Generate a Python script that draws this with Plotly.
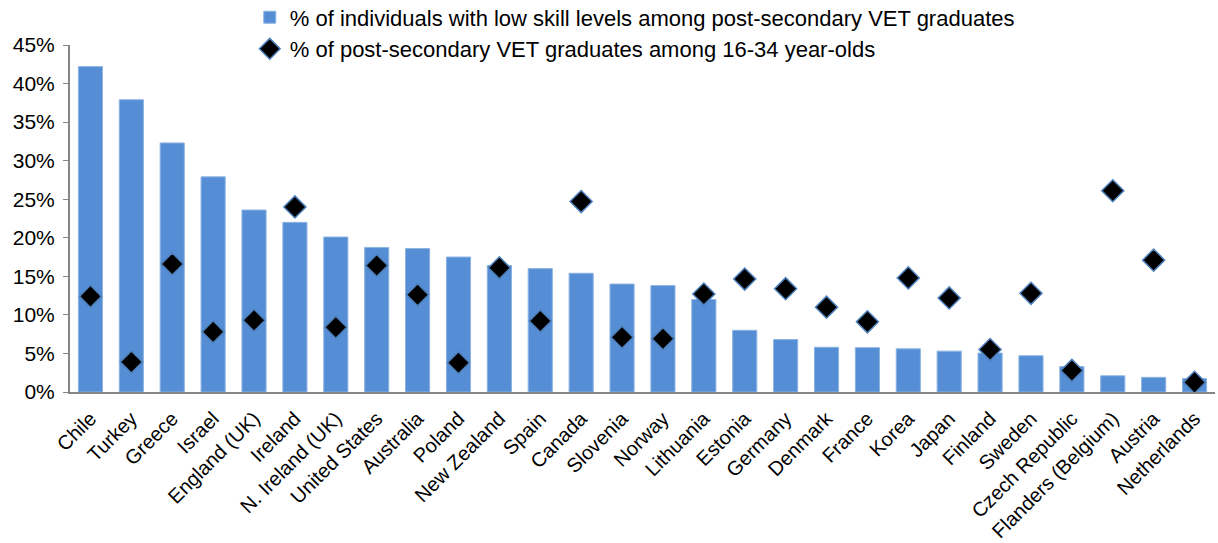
import plotly.graph_objects as go

countries = ["Chile", "Turkey", "Greece", "Israel", "England (UK)", "Ireland", "N. Ireland (UK)",
             "United States", "Australia", "Poland", "New Zealand", "Spain", "Canada", "Slovenia",
             "Norway", "Lithuania", "Estonia", "Germany", "Denmark", "France", "Korea", "Japan",
             "Finland", "Sweden", "Czech Republic", "Flanders (Belgium)", "Austria", "Netherlands"]

low_skill = [0.422, 0.379, 0.323, 0.279, 0.236, 0.220, 0.201, 0.1875, 0.186, 0.175, 0.164, 0.160,
             0.154, 0.140, 0.138, 0.120, 0.080, 0.068, 0.058, 0.0575, 0.056, 0.053, 0.0505, 0.047,
             0.033, 0.021, 0.019, 0.0175]

vet_share = [0.124, 0.039, 0.166, 0.078, 0.093, 0.240, 0.084, 0.164, 0.126, 0.038, 0.161, 0.092,
             0.247, 0.071, 0.069, 0.127, 0.1465, 0.134, 0.110, 0.091, 0.148, 0.122, 0.055, 0.128,
             0.028, 0.261, 0.171, 0.0125]

y_ticks = [0, 0.05, 0.10, 0.15, 0.20, 0.25, 0.30, 0.35, 0.40, 0.45]

FONT = "Arial, 'Liberation Sans', sans-serif"

fig = go.Figure()
fig.add_trace(go.Bar(
    x=countries, y=low_skill,
    name="% of individuals with low skill levels among post-secondary VET graduates",
    marker=dict(color="#558ED5", line=dict(color="#8DB3E2", width=1)),
    width=0.59,
))
fig.add_trace(go.Scatter(
    x=countries, y=vet_share, mode="markers",
    name="% of post-secondary VET graduates among 16-34 year-olds",
    marker=dict(symbol="diamond", size=17, color="black", line=dict(color="#4F81BD", width=1.5)),
))

fig.update_layout(
    width=1218, height=543,
    margin=dict(l=70, r=3, t=45, b=151, autoexpand=False),
    paper_bgcolor="white", plot_bgcolor="white",
    font=dict(family=FONT, size=21, color="black"),
    bargap=0.41,
    showlegend=True,
    legend=dict(x=0.157, y=1.14, xanchor="left", yanchor="top", font=dict(size=22),
                bgcolor="rgba(0,0,0,0)", tracegroupgap=0, itemwidth=30),
    xaxis=dict(tickangle=-45, tickfont=dict(size=20), showline=True, linecolor="#868686",
               linewidth=2, ticks="", showgrid=False, automargin=False,
               ticklabelstandoff=5, range=[-0.5, len(countries) - 0.5]),
    yaxis=dict(range=[0, 0.45], tickvals=y_ticks, tickformat=".0%", showline=True,
               linecolor="#868686", linewidth=2, ticks="outside", ticklen=5, tickcolor="#868686",
               showgrid=False, zeroline=False, tickfont=dict(size=21), automargin=False,
               ticklabelstandoff=4),
)

fig.write_html("out.html", include_plotlyjs=True, full_html=True,
               config={"responsive": False, "displayModeBar": False})

# remove the default 8px body margin so the figure sits at the page origin
with open("out.html", "r", encoding="utf-8") as f:
    html = f.read()
html = html.replace("<head>", "<head><style>html,body{margin:0;padding:0;overflow:hidden;}</style>", 1)
with open("out.html", "w", encoding="utf-8") as f:
    f.write(html)
